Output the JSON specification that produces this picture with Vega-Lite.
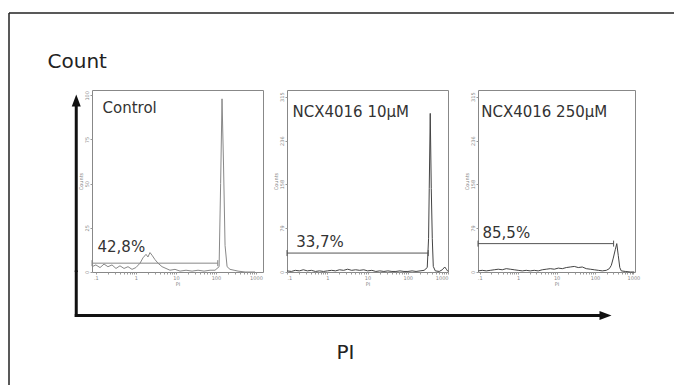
{
  "$schema": "https://vega.github.io/schema/vega-lite/v6.json",
  "padding": {"left": 8, "top": 12, "right": 0, "bottom": 0},
  "autosize": {"type": "pad"},
  "background": "white",
  "config": {
    "view": {"stroke": null},
    "font": "DejaVu Sans",
    "axis": {
      "labelFont": "DejaVu Sans", "titleFont": "DejaVu Sans",
      "labelFontSize": 5, "titleFontSize": 5,
      "labelColor": "#888", "titleColor": "#888", "tickColor": "#999",
      "tickSize": 2, "domain": false, "grid": false,
      "titleFontWeight": "normal", "labelPadding": 1, "titlePadding": 1
    }
  },
  "datasets": {
    "control": [
      {"pi":0.08,"count":3},{"pi":0.1,"count":4},{"pi":0.127,"count":2.5},{"pi":0.16,"count":4.5},{"pi":0.2,"count":3},{"pi":0.253,"count":4},{"pi":0.318,"count":2},{"pi":0.4,"count":3.5},{"pi":0.505,"count":2},{"pi":0.635,"count":3},{"pi":0.8,"count":1.5},{"pi":1.0,"count":2.5},{"pi":1.27,"count":5},{"pi":1.5,"count":8},{"pi":1.79,"count":10},{"pi":2.0,"count":8.5},{"pi":2.25,"count":11},{"pi":2.53,"count":9.5},{"pi":3.0,"count":7},{"pi":3.57,"count":5},{"pi":4.5,"count":3},{"pi":5.66,"count":2},{"pi":7.1,"count":1},{"pi":9.5,"count":1.5},{"pi":12.7,"count":0.5},{"pi":17.9,"count":1},{"pi":25.3,"count":0.5},{"pi":35.7,"count":1},{"pi":50.5,"count":0.5},{"pi":71.3,"count":1},{"pi":95,"count":1},{"pi":120,"count":3},{"pi":131,"count":50},{"pi":142,"count":98},{"pi":155,"count":60},{"pi":169,"count":15},{"pi":190,"count":3},{"pi":225,"count":1.5},{"pi":284,"count":1},{"pi":357,"count":0.5},{"pi":535,"count":0},{"pi":950,"count":0}
    ],
    "ncx10": [
      {"pi":0.101,"count":2},{"pi":0.128,"count":1},{"pi":0.161,"count":3},{"pi":0.202,"count":2},{"pi":0.255,"count":4},{"pi":0.321,"count":2},{"pi":0.404,"count":3},{"pi":0.508,"count":1},{"pi":0.64,"count":2},{"pi":0.805,"count":1},{"pi":1.01,"count":2},{"pi":1.28,"count":3},{"pi":1.61,"count":2},{"pi":2.02,"count":4},{"pi":2.55,"count":3},{"pi":3.21,"count":5},{"pi":4.04,"count":3},{"pi":5.08,"count":4},{"pi":6.4,"count":3},{"pi":8.06,"count":4},{"pi":10.1,"count":2},{"pi":12.8,"count":3},{"pi":16.1,"count":1},{"pi":20.2,"count":2},{"pi":25.5,"count":1},{"pi":32.1,"count":2},{"pi":40.4,"count":1},{"pi":50.8,"count":1},{"pi":64,"count":2},{"pi":80.5,"count":1},{"pi":101,"count":1},{"pi":128,"count":2},{"pi":161,"count":1},{"pi":202,"count":2},{"pi":255,"count":3},{"pi":305,"count":8},{"pi":329,"count":60},{"pi":342,"count":150},{"pi":362,"count":285},{"pi":384,"count":150},{"pi":407,"count":60},{"pi":431,"count":10},{"pi":483,"count":2},{"pi":607,"count":1},{"pi":720,"count":4},{"pi":830,"count":9},{"pi":931,"count":4},{"pi":995,"count":1}
    ],
    "ncx250": [
      {"pi":0.0914,"count":2},{"pi":0.116,"count":3},{"pi":0.148,"count":2},{"pi":0.188,"count":3},{"pi":0.238,"count":4},{"pi":0.303,"count":5},{"pi":0.385,"count":4},{"pi":0.489,"count":6},{"pi":0.622,"count":5},{"pi":0.79,"count":4},{"pi":1.0,"count":3},{"pi":1.28,"count":2},{"pi":1.62,"count":3},{"pi":2.06,"count":2},{"pi":2.62,"count":3},{"pi":3.33,"count":2},{"pi":4.24,"count":4},{"pi":5.38,"count":5},{"pi":6.85,"count":6},{"pi":8.7,"count":5},{"pi":11.1,"count":7},{"pi":14.1,"count":6},{"pi":17.9,"count":8},{"pi":22.7,"count":9},{"pi":28.9,"count":10},{"pi":36.7,"count":8},{"pi":46.7,"count":9},{"pi":59.3,"count":6},{"pi":75.4,"count":5},{"pi":95.8,"count":4},{"pi":122,"count":3},{"pi":155,"count":2},{"pi":197,"count":3},{"pi":236,"count":6},{"pi":266,"count":12},{"pi":299,"count":25},{"pi":337,"count":40},{"pi":369,"count":51},{"pi":403,"count":30},{"pi":442,"count":8},{"pi":483,"count":2},{"pi":615,"count":1},{"pi":830,"count":0},{"pi":1050,"count":0}
    ],
    "gate_control": [{"from":0.08,"to":111,"level":5,"pct":"42,8%"}],
    "gate_ncx10": [{"from":0.1,"to":323,"level":34,"pct":"33,7%"}],
    "gate_ncx250": [{"from":0.09,"to":305,"level":51,"pct":"85,5%"}]
  },
  "concat": [
    {
      "width": 83, "height": 77,
      "data": {"values": [{}]},
      "layer": [
        {"mark": {"type":"rule","color":"#222","strokeWidth":1.5},
         "encoding": {"x": {"datum":0,"type":"quantitative","scale":{"domain":[0,1]},"axis":null}}},
        {"mark": {"type":"rule","color":"#222","strokeWidth":1.5},
         "encoding": {"y": {"datum":1,"type":"quantitative","scale":{"domain":[0,1]},"axis":null}}},
        {"mark": {"type":"text","text":"Count","align":"left","baseline":"alphabetic","fontSize":20,"color":"#222","font":"DejaVu Sans"},
         "encoding": {"x": {"datum":0.4639,"type":"quantitative","scale":{"domain":[0,1]},"axis":null},
                      "y": {"datum":0.2922,"type":"quantitative","scale":{"domain":[0,1]},"axis":null}}}
      ]
    },
    {"width": 171, "height": 77, "data": {"values": [{}]}, "mark": {"type":"rule","color":"#222","strokeWidth":1.5},
     "encoding": {"y": {"datum":1,"type":"quantitative","scale":{"domain":[0,1]},"axis":null}}},
    {"width": 24, "height": 77, "data": {"values": [{}]}, "mark": {"type":"rule","color":"#222","strokeWidth":1.5},
     "encoding": {"y": {"datum":1,"type":"quantitative","scale":{"domain":[0,1]},"axis":null}}},
    {"width": 161, "height": 77, "data": {"values": [{}]}, "mark": {"type":"rule","color":"#222","strokeWidth":1.5},
     "encoding": {"y": {"datum":1,"type":"quantitative","scale":{"domain":[0,1]},"axis":null}}},
    {"width": 30, "height": 77, "data": {"values": [{}]}, "mark": {"type":"rule","color":"#222","strokeWidth":1.5},
     "encoding": {"y": {"datum":1,"type":"quantitative","scale":{"domain":[0,1]},"axis":null}}},
    {"width": 157, "height": 77, "data": {"values": [{}]}, "mark": {"type":"rule","color":"#222","strokeWidth":1.5},
     "encoding": {"y": {"datum":1,"type":"quantitative","scale":{"domain":[0,1]},"axis":null}}},
    {"width": 39, "height": 77, "data": {"values": [{}]}, "mark": {"type":"rule","color":"#222","strokeWidth":1.5},
     "encoding": {"y": {"datum":1,"type":"quantitative","scale":{"domain":[0,1]},"axis":null}}},

    {
      "width": 83, "height": 182,
      "data": {"values": [{}]},
      "layer": [
        {"mark": {"type":"rule","color":"#222","strokeWidth":1.5},
         "encoding": {"x": {"datum":0,"type":"quantitative","scale":{"domain":[0,1]},"axis":null}}},
        {"mark": {"type":"rule","color":"#111","strokeWidth":3},
         "encoding": {"x": {"datum":0.8102,"type":"quantitative","scale":{"domain":[0,1]},"axis":null},
                      "y": {"datum":0.9423,"type":"quantitative","scale":{"domain":[0,1]},"axis":null},
                      "y2": {"datum":0}}},
        {"mark": {"type":"point","shape":"M-0.75,1L0,-1L0.75,1Z","size":144,"filled":true,"color":"#111","opacity":1},
         "encoding": {"x": {"datum":0.8102,"type":"quantitative","scale":{"domain":[0,1]},"axis":null},
                      "y": {"datum":0.9423,"type":"quantitative","scale":{"domain":[0,1]},"axis":null}}}
      ]
    },
    {
      "width": 171, "height": 182,
      "view": {"stroke": "#888", "strokeWidth": 1},
      "layer": [
        {"data": {"name":"control"},
         "mark": {"type":"line","color":"#888","strokeWidth":1},
         "encoding": {
           "x": {"field":"pi","type":"quantitative","scale":{"type":"log","domain":[0.08,1500],"nice":false},
                 "axis":{"title":"PI","values":[0.1,0.2,0.3,0.4,0.5,0.6,0.7,0.8,0.9,1,2,3,4,5,6,7,8,9,10,20,30,40,50,60,70,80,90,100,200,300,400,500,600,700,800,900,1000],
                         "labelExpr":"datum.value == 0.1 ? '.1' : datum.value == 1 ? '1' : datum.value == 10 ? '10' : datum.value == 100 ? '100' : datum.value == 1000 ? '1000' : ''"}},
           "y": {"field":"count","type":"quantitative","scale":{"domain":[0,103],"nice":false},
                 "axis":{"title":"Counts","values":[0,25,50,75,100],"labelAngle":270,"labelAlign":"center","labelBaseline":"bottom"}}
         }},
        {"data": {"name":"gate_control"},
         "mark": {"type":"rule","color":"#888","strokeWidth":1},
         "encoding": {"x":{"field":"from","type":"quantitative"},"x2":{"field":"to"},"y":{"field":"level","type":"quantitative"}}},
        {"data": {"name":"gate_control"},
         "transform": [{"fold":["from","to"],"as":["end","pos"]}],
         "mark": {"type":"point","shape":"M0,-1L0,1","size":36,"filled":false,"color":"#888","strokeWidth":1,"opacity":1},
         "encoding": {"x":{"field":"pos","type":"quantitative"},"y":{"field":"level","type":"quantitative"}}},
        {"data": {"name":"gate_control"},
         "mark": {"type":"text","align":"left","baseline":"alphabetic","dx":5.5,"dy":-11.5,"fontSize":15,"color":"#333"},
         "encoding": {"x":{"field":"from","type":"quantitative"},"y":{"field":"level","type":"quantitative"},"text":{"field":"pct"}}},
        {"data": {"values":[{"sample":"Control"}]},
         "mark": {"type":"text","align":"left","baseline":"alphabetic","dx":10.5,"dy":23,"fontSize":15,"color":"#333"},
         "encoding": {"x":{"datum":0.08,"type":"quantitative"},"y":{"datum":103,"type":"quantitative"},"text":{"field":"sample"}}}
      ]
    },
    {"width": 24, "height": 182, "data": {"values": []}, "mark": "point", "encoding": {}},
    {
      "width": 161, "height": 182,
      "view": {"stroke": "#888", "strokeWidth": 1},
      "layer": [
        {"data": {"name":"ncx10"},
         "mark": {"type":"line","color":"#444","strokeWidth":1},
         "encoding": {
           "x": {"field":"pi","type":"quantitative","scale":{"type":"log","domain":[0.1,1000],"nice":false},
                 "axis":{"title":"PI","values":[0.1,0.2,0.3,0.4,0.5,0.6,0.7,0.8,0.9,1,2,3,4,5,6,7,8,9,10,20,30,40,50,60,70,80,90,100,200,300,400,500,600,700,800,900,1000],
                         "labelExpr":"datum.value == 0.1 ? '.1' : datum.value == 1 ? '1' : datum.value == 10 ? '10' : datum.value == 100 ? '100' : datum.value == 1000 ? '1000' : ''"}},
           "y": {"field":"count","type":"quantitative","scale":{"domain":[0,327],"nice":false},
                 "axis":{"title":"Counts","values":[0,79,158,236,315],"labelAngle":270,"labelAlign":"center","labelBaseline":"bottom"}}
         }},
        {"data": {"name":"gate_ncx10"},
         "mark": {"type":"rule","color":"#555","strokeWidth":1},
         "encoding": {"x":{"field":"from","type":"quantitative"},"x2":{"field":"to"},"y":{"field":"level","type":"quantitative"}}},
        {"data": {"name":"gate_ncx10"},
         "transform": [{"fold":["from","to"],"as":["end","pos"]}],
         "mark": {"type":"point","shape":"M0,-1L0,1","size":36,"filled":false,"color":"#555","strokeWidth":1,"opacity":1},
         "encoding": {"x":{"field":"pos","type":"quantitative"},"y":{"field":"level","type":"quantitative"}}},
        {"data": {"name":"gate_ncx10"},
         "mark": {"type":"text","align":"left","baseline":"alphabetic","dx":9.2,"dy":-6.4,"fontSize":15,"color":"#333"},
         "encoding": {"x":{"field":"from","type":"quantitative"},"y":{"field":"level","type":"quantitative"},"text":{"field":"pct"}}},
        {"data": {"values":[{"sample":"NCX4016 10µM"}]},
         "mark": {"type":"text","align":"left","baseline":"alphabetic","dx":5.5,"dy":27,"fontSize":15,"color":"#333"},
         "encoding": {"x":{"datum":0.1,"type":"quantitative"},"y":{"datum":327,"type":"quantitative"},"text":{"field":"sample"}}}
      ]
    },
    {"width": 30, "height": 182, "data": {"values": []}, "mark": "point", "encoding": {}},
    {
      "width": 157, "height": 182,
      "view": {"stroke": "#888", "strokeWidth": 1},
      "layer": [
        {"data": {"name":"ncx250"},
         "mark": {"type":"line","color":"#444","strokeWidth":1},
         "encoding": {
           "x": {"field":"pi","type":"quantitative","scale":{"type":"log","domain":[0.09,1100],"nice":false},
                 "axis":{"title":"PI","values":[0.1,0.2,0.3,0.4,0.5,0.6,0.7,0.8,0.9,1,2,3,4,5,6,7,8,9,10,20,30,40,50,60,70,80,90,100,200,300,400,500,600,700,800,900,1000],
                         "labelExpr":"datum.value == 0.1 ? '.1' : datum.value == 1 ? '1' : datum.value == 10 ? '10' : datum.value == 100 ? '100' : datum.value == 1000 ? '1000' : ''"}},
           "y": {"field":"count","type":"quantitative","scale":{"domain":[0,327],"nice":false},
                 "axis":{"title":"Counts","values":[0,79,158,236,315],"labelAngle":270,"labelAlign":"center","labelBaseline":"bottom"}}
         }},
        {"data": {"name":"gate_ncx250"},
         "mark": {"type":"rule","color":"#555","strokeWidth":1},
         "encoding": {"x":{"field":"from","type":"quantitative"},"x2":{"field":"to"},"y":{"field":"level","type":"quantitative"}}},
        {"data": {"name":"gate_ncx250"},
         "transform": [{"fold":["from","to"],"as":["end","pos"]}],
         "mark": {"type":"point","shape":"M0,-1L0,1","size":36,"filled":false,"color":"#555","strokeWidth":1,"opacity":1},
         "encoding": {"x":{"field":"pos","type":"quantitative"},"y":{"field":"level","type":"quantitative"}}},
        {"data": {"name":"gate_ncx250"},
         "mark": {"type":"text","align":"left","baseline":"alphabetic","dx":4.5,"dy":-5.3,"fontSize":15,"color":"#333"},
         "encoding": {"x":{"field":"from","type":"quantitative"},"y":{"field":"level","type":"quantitative"},"text":{"field":"pct"}}},
        {"data": {"values":[{"sample":"NCX4016 250µM"}]},
         "mark": {"type":"text","align":"left","baseline":"alphabetic","dx":3.2,"dy":27,"fontSize":15,"color":"#333"},
         "encoding": {"x":{"datum":0.09,"type":"quantitative"},"y":{"datum":327,"type":"quantitative"},"text":{"field":"sample"}}}
      ]
    },
    {"width": 39, "height": 182, "data": {"values": []}, "mark": "point", "encoding": {}},

    {
      "width": 83, "height": 113,
      "data": {"values": [{}]},
      "layer": [
        {"mark": {"type":"rule","color":"#222","strokeWidth":1.5},
         "encoding": {"x": {"datum":0,"type":"quantitative","scale":{"domain":[0,1]},"axis":null}}},
        {"mark": {"type":"rule","color":"#111","strokeWidth":3,"strokeCap":"square"},
         "encoding": {"x": {"datum":0.8102,"type":"quantitative","scale":{"domain":[0,1]},"axis":null},
                      "y": {"datum":1,"type":"quantitative","scale":{"domain":[0,1]},"axis":null},
                      "y2": {"datum":0.615}}},
        {"mark": {"type":"rule","color":"#111","strokeWidth":3,"strokeCap":"square"},
         "encoding": {"x": {"datum":0.8102,"type":"quantitative","scale":{"domain":[0,1]},"axis":null},
                      "x2": {"datum":1},
                      "y": {"datum":0.615,"type":"quantitative","scale":{"domain":[0,1]},"axis":null}}}
      ]
    },
    {"width": 171, "height": 113, "data": {"values": [{}]}, "mark": {"type":"rule","color":"#111","strokeWidth":3},
     "encoding": {"y": {"datum":0.615,"type":"quantitative","scale":{"domain":[0,1]},"axis":null}}},
    {"width": 24, "height": 113, "data": {"values": [{}]}, "mark": {"type":"rule","color":"#111","strokeWidth":3},
     "encoding": {"y": {"datum":0.615,"type":"quantitative","scale":{"domain":[0,1]},"axis":null}}},
    {
      "width": 161, "height": 113,
      "data": {"values": [{}]},
      "layer": [
        {"mark": {"type":"rule","color":"#111","strokeWidth":3},
         "encoding": {"y": {"datum":0.615,"type":"quantitative","scale":{"domain":[0,1]},"axis":null}}},
        {"mark": {"type":"text","text":"PI","align":"center","baseline":"alphabetic","fontSize":20,"color":"#222","font":"DejaVu Sans"},
         "encoding": {"x": {"datum":0.3634,"type":"quantitative","scale":{"domain":[0,1]},"axis":null},
                      "y": {"datum":0.2257,"type":"quantitative","scale":{"domain":[0,1]},"axis":null}}}
      ]
    },
    {"width": 30, "height": 113, "data": {"values": [{}]}, "mark": {"type":"rule","color":"#111","strokeWidth":3},
     "encoding": {"y": {"datum":0.615,"type":"quantitative","scale":{"domain":[0,1]},"axis":null}}},
    {
      "width": 157, "height": 113,
      "data": {"values": [{}]},
      "layer": [
        {"mark": {"type":"rule","color":"#111","strokeWidth":3},
         "encoding": {"x": {"datum":0,"type":"quantitative","scale":{"domain":[0,1]},"axis":null},
                      "x2": {"datum":0.79},
                      "y": {"datum":0.615,"type":"quantitative","scale":{"domain":[0,1]},"axis":null}}},
        {"mark": {"type":"point","shape":"M-1,-0.75L1,0L-1,0.75Z","size":144,"filled":true,"color":"#111","opacity":1},
         "encoding": {"x": {"datum":0.8121,"type":"quantitative","scale":{"domain":[0,1]},"axis":null},
                      "y": {"datum":0.615,"type":"quantitative","scale":{"domain":[0,1]},"axis":null}}}
      ]
    },
    {"width": 39, "height": 113, "data": {"values": []}, "mark": "point", "encoding": {}}
  ],
  "columns": 7,
  "spacing": 0,
  "align": "each",
  "bounds": "flush"
}
